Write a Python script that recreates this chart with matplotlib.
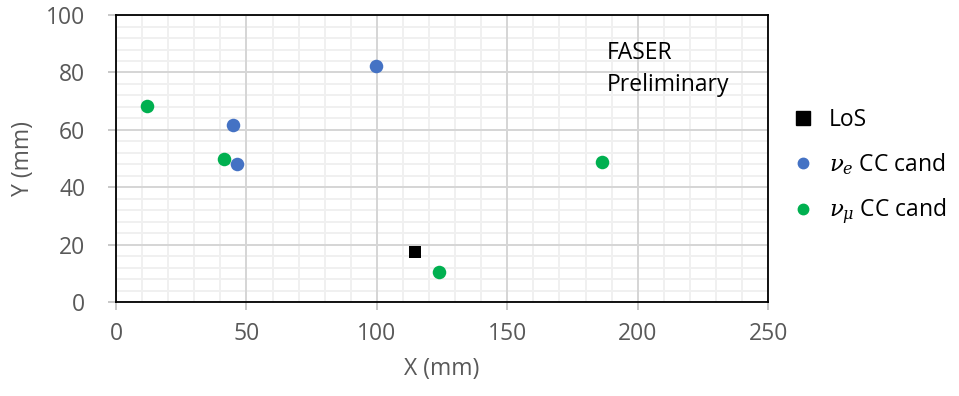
import matplotlib
matplotlib.use("Agg")
import matplotlib.pyplot as plt
from matplotlib.ticker import MultipleLocator, NullLocator
from matplotlib.lines import Line2D

plt.rcParams['font.family'] = ['Open Sans', 'DejaVu Sans']
plt.rcParams['mathtext.fontset'] = 'dejavuserif'

los_x = [114.6]
los_y = [17.3]
nue_x = [45.0, 46.5, 99.7]
nue_y = [61.7, 48.1, 82.3]
numu_x = [11.9, 41.5, 186.2, 123.9]
numu_y = [68.2, 49.7, 48.8, 10.5]

blue = '#4472C4'
green = '#00B050'
grey_txt = '#595959'
fs = 16.5
rect = [0.121, 0.237, 0.680, 0.725]

fig = plt.figure(figsize=(9.59, 3.96), dpi=100)

# background axes holding only the minor grid
bg = fig.add_axes(rect, zorder=0)
bg.set_xlim(0, 250)
bg.set_ylim(0, 100)
bg.xaxis.set_major_locator(MultipleLocator(10))
bg.yaxis.set_major_locator(MultipleLocator(4))
bg.grid(which='major', color='#F0F0F0', lw=1.4)
bg.tick_params(length=0, labelbottom=False, labelleft=False)
for s in bg.spines.values():
    s.set_visible(False)

ax = fig.add_axes(rect, zorder=1)
ax.patch.set_visible(False)
ax.set_xlim(0, 250)
ax.set_ylim(0, 100)
ax.xaxis.set_major_locator(MultipleLocator(50))
ax.yaxis.set_major_locator(MultipleLocator(20))
ax.xaxis.set_minor_locator(NullLocator())
ax.yaxis.set_minor_locator(NullLocator())
ax.grid(which='major', color='#D6D6D6', lw=1.4)
ax.set_axisbelow(True)

for s in ax.spines.values():
    s.set_color('black')
    s.set_linewidth(1.3)

ax.tick_params(which='major', direction='out', length=6, width=1.2, color='#BFBFBF',
               labelsize=fs, labelcolor=grey_txt)
ax.tick_params(axis='y', which='major', pad=16)
ax.tick_params(axis='x', which='major', pad=8)

ax.scatter(los_x, los_y, marker='s', s=70, color='black', zorder=3, linewidths=0)
ax.scatter(nue_x, nue_y, marker='o', s=95, color=blue, zorder=3, linewidths=0)
ax.scatter(numu_x, numu_y, marker='o', s=95, color=green, zorder=3, linewidths=0)

ax.set_xlabel('X (mm)', fontsize=fs, color=grey_txt, labelpad=8)
ax.set_ylabel('Y (mm)', fontsize=fs, color=grey_txt, labelpad=8)

ax.text(0.752, 0.91, 'FASER\nPreliminary', transform=ax.transAxes, fontsize=fs,
        color='black', va='top', ha='left', linespacing=1.45)

handles = [
    Line2D([], [], marker='s', ls='none', color='black', ms=10),
    Line2D([], [], marker='o', ls='none', color=blue, ms=7.5),
    Line2D([], [], marker='o', ls='none', color=green, ms=7.5),
]
labels = ['LoS', r'$\nu_e$ CC cand', r'$\nu_\mu$ CC cand']
fig.legend(handles, labels, loc='upper left', bbox_to_anchor=(0.818, 0.75),
           frameon=False, fontsize=fs, handlelength=0.8, handletextpad=0.75,
           labelspacing=0.85, borderaxespad=0)

fig.savefig('out.png', dpi=100)
